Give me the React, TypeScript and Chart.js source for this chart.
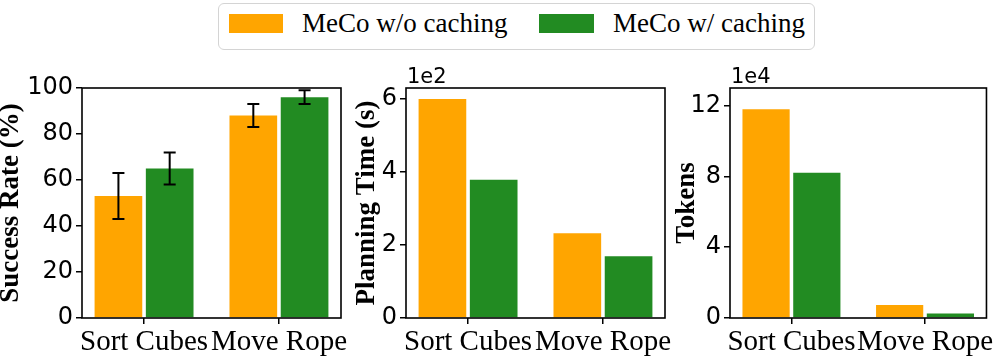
import React, { useEffect, useRef } from 'react';
import { Chart, registerables } from 'chart.js';

Chart.register(...registerables);

// ---------- data ----------
const categories = ['Sort Cubes', 'Move Rope'];
const seriesLabels = ['MeCo w/o caching', 'MeCo w/ caching'];
const seriesColors = ['#FFA500', '#228B22'];

const successNoCache = [53, 88];
const successCache = [65, 96];
const successErrNoCache = [10, 5];
const successErrCache = [7, 3];

const planningNoCache = [600, 232];
const planningCache = [379, 169];

const tokensNoCache = [118000, 7300];
const tokensCache = [82100, 2500];

const successTicks = [0, 20, 40, 60, 80, 100];
const planningTicks = [0, 200, 400, 600];
const tokensTicks = [0, 40000, 80000, 120000];

const planningScaleText = '1e2';
const planningScale = 100;
const tokensScaleText = '1e4';
const tokensScale = 10000;

// axis limits (like matplotlib xlim / ylim)
const X_MIN = -0.46;
const X_MAX = 1.46;
const SUCCESS_MAX = 100;
const PLANNING_MAX = 630;
const TOKENS_MAX = 130000;

const W = 996;
const H = 359;

const framePlugin = {
  id: 'frame',
  afterDraw(chart: any) {
    const { ctx, chartArea } = chart;
    ctx.save();
    ctx.strokeStyle = '#000';
    ctx.lineWidth = 1.6;
    ctx.strokeRect(chartArea.left, chartArea.top, chartArea.right - chartArea.left, chartArea.bottom - chartArea.top);
    ctx.restore();
  },
};

const offsetTextPlugin = (text: string) => ({
  id: 'offsetText',
  afterDraw(chart: any) {
    const { ctx, chartArea } = chart;
    ctx.save();
    ctx.fillStyle = '#000';
    ctx.font = '21px "DejaVu Sans"';
    ctx.textAlign = 'left';
    ctx.textBaseline = 'alphabetic';
    ctx.fillText(text, chartArea.left + 1, chartArea.top - 5);
    ctx.restore();
  },
});

const errorBarPlugin = (errs: number[][], values: number[][]) => ({
  id: 'errorBars',
  afterDatasetsDraw(chart: any) {
    const { ctx } = chart;
    const yScale = chart.scales.y;
    ctx.save();
    ctx.strokeStyle = '#000';
    ctx.lineWidth = 2;
    errs.forEach((errArr, di) => {
      const meta = chart.getDatasetMeta(di);
      meta.data.forEach((el: any, i: number) => {
        const v = values[di][i];
        const e = errArr[i];
        const x = el.x;
        const yLo = yScale.getPixelForValue(v - e);
        const yHi = yScale.getPixelForValue(v + e);
        const cap = 6;
        ctx.beginPath();
        ctx.moveTo(x, yLo);
        ctx.lineTo(x, yHi);
        ctx.moveTo(x - cap, yLo);
        ctx.lineTo(x + cap, yLo);
        ctx.moveTo(x - cap, yHi);
        ctx.lineTo(x + cap, yHi);
        ctx.stroke();
      });
    });
    ctx.restore();
  },
});

function makeConfig(opts: {
  a: number[];
  b: number[];
  padLeft: number;
  yWidth: number;
  areaRight: number;
  max: number;
  ticks: number[];
  scale: number;
  title: string;
  plugins: any[];
}) {
  const tickGrid = {
    offset: false,
    drawOnChartArea: false,
    drawTicks: true,
    tickLength: 6,
    tickWidth: 1.5,
    tickColor: '#000',
    color: '#000',
    lineWidth: 1.5,
  };
  return {
    type: 'bar',
    data: {
      labels: categories,
      datasets: [
        { label: seriesLabels[0], data: opts.a, backgroundColor: seriesColors[0], categoryPercentage: 0.76, barPercentage: 0.93 },
        { label: seriesLabels[1], data: opts.b, backgroundColor: seriesColors[1], categoryPercentage: 0.76, barPercentage: 0.93 },
      ],
    },
    options: {
      responsive: false,
      maintainAspectRatio: false,
      animation: false,
      devicePixelRatio: 1,
      layout: { padding: { left: opts.padLeft, right: W - opts.areaRight, top: 88, bottom: 0 } },
      plugins: { legend: { display: false }, tooltip: { enabled: false }, title: { display: false } },
      scales: {
        x: {
          afterBuildTicks: (s: any) => {
            s._startValue = X_MIN;
            s._valueRange = X_MAX - X_MIN;
          },
          afterFit: (s: any) => {
            s.height = H - 318;
          },
          grid: tickGrid,
          border: { display: false },
          ticks: {
            color: '#000',
            font: { family: 'Liberation Serif', size: 29 },
            padding: 1,
            maxRotation: 0,
            minRotation: 0,
            autoSkip: false,
          },
        },
        y: {
          min: 0,
          max: opts.max,
          afterFit: (s: any) => {
            s.width = opts.yWidth;
          },
          afterBuildTicks: (s: any) => {
            s.ticks = opts.ticks.map((v) => ({ value: v }));
          },
          grid: { ...tickGrid },
          border: { display: false },
          ticks: {
            color: '#000',
            font: { family: 'DejaVu Sans', size: 24 },
            padding: 3,
            callback: (v: any) => String(Math.round((Number(v) / opts.scale) * 100) / 100),
          },
          title: {
            display: true,
            text: opts.title,
            color: '#000',
            font: { family: 'Liberation Serif', size: 27, weight: 'bold', lineHeight: 0.8 },
            padding: 0,
          },
        },
      },
    },
    plugins: [framePlugin, ...opts.plugins],
  };
}

export default function App() {
  const c1 = useRef<HTMLCanvasElement>(null);
  const c2 = useRef<HTMLCanvasElement>(null);
  const c3 = useRef<HTMLCanvasElement>(null);

  useEffect(() => {
    document.body.style.margin = '0';
    const charts: Chart[] = [];
    charts.push(
      new Chart(
        c1.current as HTMLCanvasElement,
        makeConfig({
          a: successNoCache,
          b: successCache,
          padLeft: 0,
          yWidth: 82,
          areaRight: 341,
          max: SUCCESS_MAX,
          ticks: successTicks,
          scale: 1,
          title: 'Success Rate (%)',
          plugins: [errorBarPlugin([successErrNoCache, successErrCache], [successNoCache, successCache])],
        }) as any
      )
    );
    charts.push(
      new Chart(
        c2.current as HTMLCanvasElement,
        makeConfig({
          a: planningNoCache,
          b: planningCache,
          padLeft: 356,
          yWidth: 50,
          areaRight: 665,
          max: PLANNING_MAX,
          ticks: planningTicks,
          scale: planningScale,
          title: 'Planning Time (s)',
          plugins: [offsetTextPlugin(planningScaleText)],
        }) as any
      )
    );
    charts.push(
      new Chart(
        c3.current as HTMLCanvasElement,
        makeConfig({
          a: tokensNoCache,
          b: tokensCache,
          padLeft: 676,
          yWidth: 54,
          areaRight: 988,
          max: TOKENS_MAX,
          ticks: tokensTicks,
          scale: tokensScale,
          title: 'Tokens',
          plugins: [offsetTextPlugin(tokensScaleText)],
        }) as any
      )
    );
    return () => charts.forEach((c) => c.destroy());
  }, []);

  const canvasStyle: React.CSSProperties = { position: 'absolute', left: 0, top: 0 };
  const textStyle: React.CSSProperties = {
    position: 'absolute',
    top: 10.4,
    fontFamily: '"Liberation Serif", serif',
    fontSize: 27,
    lineHeight: '27px',
    whiteSpace: 'nowrap',
    color: '#000',
  };

  return (
    <div style={{ position: 'relative', width: W, height: H, background: '#fff', overflow: 'hidden' }}>
      <canvas ref={c1} width={W} height={H} style={canvasStyle} />
      <canvas ref={c2} width={W} height={H} style={canvasStyle} />
      <canvas ref={c3} width={W} height={H} style={canvasStyle} />
      <div
        style={{
          position: 'absolute',
          left: 218,
          top: 3,
          width: 597,
          height: 47,
          boxSizing: 'border-box',
          border: '1.5px solid #d4d4d4',
          borderRadius: 6,
          background: '#fff',
        }}
      />
      <div style={{ position: 'absolute', left: 229, top: 14, width: 54, height: 19, background: seriesColors[0] }} />
      <span style={{ ...textStyle, left: 302 }}>{seriesLabels[0]}</span>
      <div style={{ position: 'absolute', left: 539, top: 14, width: 55, height: 19, background: seriesColors[1] }} />
      <span style={{ ...textStyle, left: 613 }}>{seriesLabels[1]}</span>
    </div>
  );
}
